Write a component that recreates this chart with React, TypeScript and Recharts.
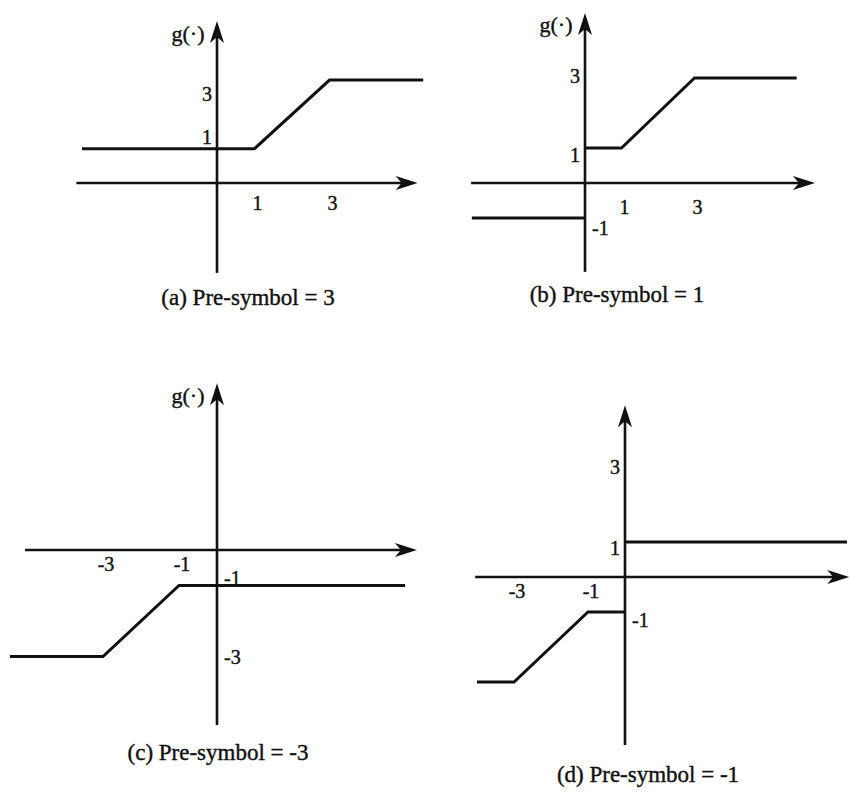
import React from 'react';
import { LineChart, Line, XAxis, YAxis, ReferenceLine, ReferenceDot } from 'recharts';

// (a) Pre-symbol = 3
const aX = [-3.6, 1, 3, 5.5];
const aY = [1, 1, 3, 3];
const aXTicks = [1, 3];
const aYTicks = [3, 1];

// (b) Pre-symbol = 1 (jumps at the origin)
const bLeftX = [-3.1, 0];
const bLeftY = [-1, -1];
const bRightX = [0, 1, 3, 5.8];
const bRightY = [1, 1, 3, 3];
const bXTicks = [1, 3];
const bYTicks = [3, 1, -1];

// (c) Pre-symbol = -3
const cX = [-5.45, -3, -1, 4.95];
const cY = [-3, -3, -1, -1];
const cXTicks = [-3, -1];
const cYTicks = [-1, -3];

// (d) Pre-symbol = -1 (jumps at the origin)
const dLeftX = [-4.0, -3, -1, 0];
const dLeftY = [-3, -3, -1, -1];
const dRightX = [0, 6.0];
const dRightY = [1, 1];
const dXTicks = [-3, -1];
const dYTicks = [3, 1, -1];

const captions = ['(a) Pre-symbol = 3', '(b) Pre-symbol = 1', '(c) Pre-symbol = -3', '(d) Pre-symbol = -1'];
const yName = 'g(·)';

const INK = '#111';
const FONT = '"Liberation Serif", "Times New Roman", serif';

const zip = (xs: number[], ys: number[]) => xs.map((x, i) => ({ x, y: ys[i] }));

function arrowShape(label?: string) {
  return (props: any) => {
    const { x1, y1, x2, y2 } = props;
    if ([x1, y1, x2, y2].some((v) => v == null || isNaN(v))) return <g />;
    const len = Math.hypot(x2 - x1, y2 - y1) || 1;
    const ux = (x2 - x1) / len;
    const uy = (y2 - y1) / len;
    const nx = -uy;
    const ny = ux;
    const L = 22, W = 7, N = 16;
    const head = [
      [x2, y2],
      [x2 - L * ux + W * nx, y2 - L * uy + W * ny],
      [x2 - N * ux, y2 - N * uy],
      [x2 - L * ux - W * nx, y2 - L * uy - W * ny],
    ]
      .map((p) => p.join(','))
      .join(' ');
    return (
      <g>
        <line x1={x1} y1={y1} x2={x2 - 10 * ux} y2={y2 - 10 * uy} stroke={INK} strokeWidth={2.6} />
        <polygon points={head} fill={INK} />
        {label && (
          <text x={x2 - 29} y={y2 + 12} textAnchor="middle" dominantBaseline="central" fontSize={22} fontFamily={FONT} fill={INK} stroke={INK} strokeWidth={0.4}>
            {label}
          </text>
        )}
      </g>
    );
  };
}

const xTickShape = (text: string, gap: number) => (p: any) => (
  <text x={p.cx + 3} y={p.cy + gap} textAnchor="middle" dominantBaseline="central" fontSize={20} fontFamily={FONT} fill={INK} stroke={INK} strokeWidth={0.4}>
    {text}
  </text>
);

const yTickShape = (text: string, v: number, dy: number) => (p: any) => (
  <text
    x={v > 0 ? p.cx - 5 : p.cx + 7}
    y={p.cy + dy}
    textAnchor={v > 0 ? 'end' : 'start'}
    dominantBaseline="central"
    fontSize={20}
    fontFamily={FONT}
    fill={INK}
    stroke={INK}
    strokeWidth={0.4}
  >
    {text}
  </text>
);

interface PanelProps {
  left: number;
  top: number;
  w: number;
  h: number;
  ox: number;
  oy: number;
  sx: number;
  sy: number;
  xSpan: number[];
  ySpan: number[];
  segments: { x: number; y: number }[][];
  xTicks: number[];
  yTicks: number[];
  yTickDy: number[];
  xTickGap: number;
  showName: boolean;
}

function Panel(p: PanelProps) {
  const xDomain = [(p.left - p.ox) / p.sx, (p.left + p.w - p.ox) / p.sx];
  const yDomain = [(p.oy - p.top - p.h) / p.sy, (p.oy - p.top) / p.sy];
  return (
    <div style={{ position: 'absolute', left: p.left, top: p.top }}>
      <LineChart width={p.w} height={p.h} margin={{ top: 0, right: 0, bottom: 0, left: 0 }}>
        <XAxis type="number" dataKey="x" domain={xDomain} allowDataOverflow hide />
        <YAxis type="number" dataKey="y" domain={yDomain} allowDataOverflow hide />
        <ReferenceLine
          segment={[{ x: p.xSpan[0], y: 0 }, { x: p.xSpan[1], y: 0 }]}
          shape={arrowShape()}
          ifOverflow="visible"
        />
        <ReferenceLine
          segment={[{ x: 0, y: p.ySpan[0] }, { x: 0, y: p.ySpan[1] }]}
          shape={arrowShape(p.showName ? yName : undefined)}
          ifOverflow="visible"
        />
        {p.segments.map((seg, i) => (
          <Line
            key={i}
            data={seg}
            dataKey="y"
            type="linear"
            stroke={INK}
            strokeWidth={3}
            dot={false}
            activeDot={false}
            isAnimationActive={false}
          />
        ))}
        {p.xTicks.map((v) => (
          <ReferenceDot key={'x' + v} x={v} y={0} r={0} shape={xTickShape(String(v), p.xTickGap)} ifOverflow="visible" />
        ))}
        {p.yTicks.map((v, i) => (
          <ReferenceDot key={'y' + v} x={0} y={v} r={0} shape={yTickShape(String(v), v, p.yTickDy[i])} ifOverflow="visible" />
        ))}
      </LineChart>
    </div>
  );
}

function Caption({ text, cx, cy }: { text: string; cx: number; cy: number }) {
  return (
    <div
      style={{
        position: 'absolute',
        left: cx - 150,
        top: cy - 15,
        width: 300,
        height: 30,
        lineHeight: '30px',
        textAlign: 'center',
        fontFamily: FONT,
        fontSize: 23,
        color: INK,
        WebkitTextStroke: '0.4px #111',
      }}
    >
      {text}
    </div>
  );
}

export default function App() {
  return (
    <div style={{ position: 'absolute', left: 0, top: 0, width: 850, height: 793, background: '#fff', overflow: 'hidden' }}>
      <Panel
        left={0} top={0} w={425} h={285}
        ox={217} oy={183} sx={37.5} sy={34.3}
        xSpan={[-3.75, 5.35]} ySpan={[-2.62, 4.72]}
        segments={[zip(aX, aY)]}
        xTicks={aXTicks} yTicks={aYTicks} yTickDy={[14, -12]} xTickGap={20} showName
      />
      <Panel
        left={425} top={0} w={425} h={285}
        ox={585} oy={183} sx={36.5} sy={35}
        xSpan={[-3.12, 6.3]} ySpan={[-2.54, 4.86]}
        segments={[zip(bLeftX, bLeftY), zip(bRightX, bRightY)]}
        xTicks={bXTicks} yTicks={bYTicks} yTickDy={[-2, 7, 10]} xTickGap={24} showName
      />
      <Panel
        left={0} top={370} w={425} h={370}
        ox={217} oy={550} sx={38} sy={35.5}
        xSpan={[-5.05, 5.26]} ySpan={[-4.93, 4.7]}
        segments={[zip(cX, cY)]}
        xTicks={cXTicks} yTicks={cYTicks} yTickDy={[-8, 0]} xTickGap={14} showName
      />
      <Panel
        left={425} top={390} w={425} h={365}
        ox={625} oy={577} sx={37} sy={35}
        xSpan={[-4.05, 6.06]} ySpan={[-4.8, 4.91]}
        segments={[zip(dLeftX, dLeftY), zip(dRightX, dRightY)]}
        xTicks={dXTicks} yTicks={dYTicks} yTickDy={[-5, 6, 8]} xTickGap={14} showName={false}
      />
      <Caption text={captions[0]} cx={248} cy={298} />
      <Caption text={captions[1]} cx={617} cy={295} />
      <Caption text={captions[2]} cx={218} cy={753} />
      <Caption text={captions[3]} cx={648} cy={775} />
    </div>
  );
}
